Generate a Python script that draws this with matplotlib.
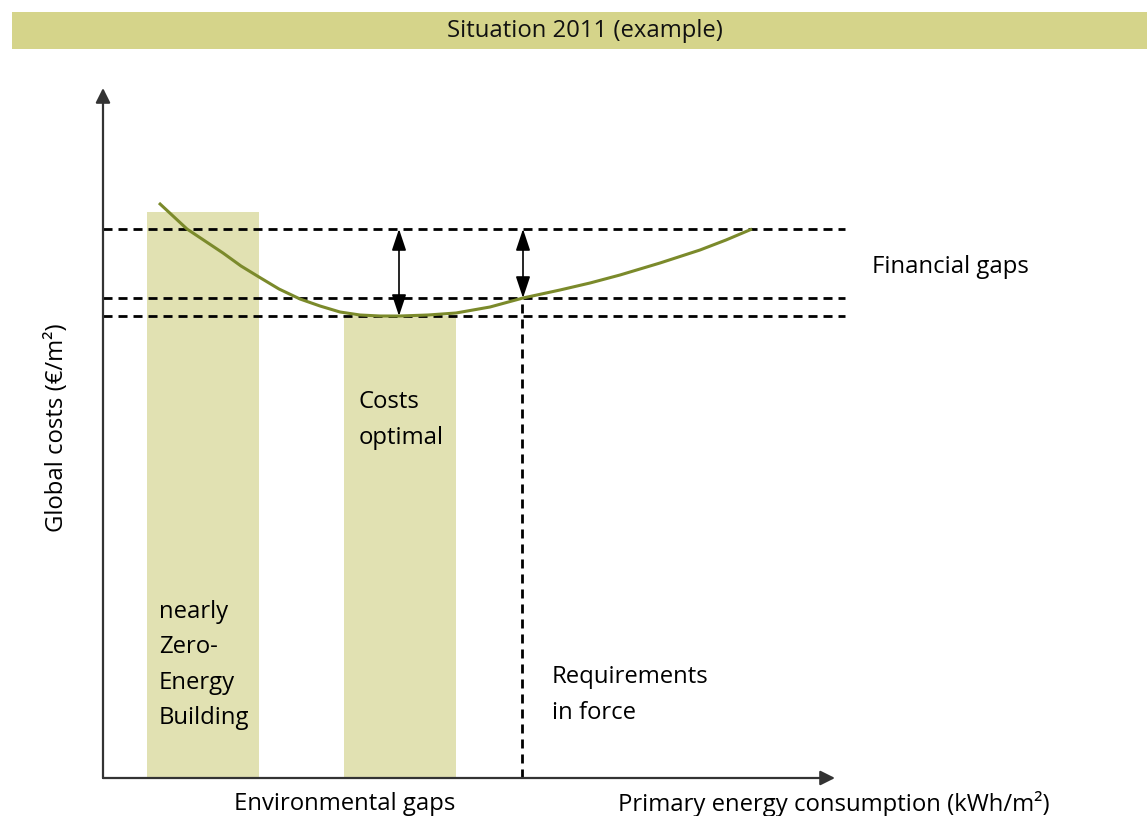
import matplotlib
matplotlib.use("Agg")
import matplotlib.pyplot as plt
from matplotlib.patches import Rectangle

# Schematic chart: units are arbitrary (energy on x, cost on y)
curve_energy = [56, 70, 84, 102, 120, 138, 156, 176, 197, 217, 237, 257, 277, 297,
                325, 353, 387, 420, 457, 487, 517, 557, 597, 623, 649]
curve_cost = [575, 562, 549, 537, 525, 512, 501, 489, 479, 472, 466, 463, 462, 462,
              463, 465, 471, 480, 488, 495, 503, 515, 528, 538, 549]

bar_labels = ["nearly\nZero-\nEnergy\nBuilding", "Costs\noptimal"]
bar_left = [44, 241]
bar_width = [112, 112]
bar_height = [566, 462]

gap_levels = [549, 480, 462]       # horizontal dashed levels
requirement_energy = 419           # requirements in force
gap_arrows = [(296, 549, 462), (420, 549, 480)]

title = "Situation 2011 (example)"

plt.rcParams['font.family'] = ['Open Sans', 'DejaVu Sans']
plt.rcParams['lines.scale_dashes'] = False
FS = 17.2
LS = 1.62

fig = plt.figure(figsize=(11.47, 8.16), dpi=100)
ax = fig.add_axes([0, 0, 1, 1])
ax.set_xlim(-103, 1044)
ax.set_ylim(-38, 778)
ax.axis('off')

# title band
ax.add_patch(Rectangle((-91, 729), 1135, 37, facecolor='#d5d48a', edgecolor='none'))
ax.text(482, 747, title, ha='center', va='center', fontsize=FS, color='#111111')

# shaded bars
ax.bar(bar_left, bar_height, width=bar_width, align='edge', color='#e1e1b2', zorder=1)

# dashed gap lines
for lvl in gap_levels:
    ax.plot([0, 742], [lvl, lvl], color='black', lw=2, dashes=(6.5, 4.3), zorder=2)
ax.plot([requirement_energy, requirement_energy], [0, gap_levels[1]],
        color='black', lw=2, dashes=(6.5, 4.3), zorder=2)

# cost curve
ax.plot(curve_energy, curve_cost, color='#7b8a2b', lw=2.2, zorder=3,
        solid_capstyle='butt', solid_joinstyle='round')

# financial gap arrows
for x, top, bot in gap_arrows:
    ax.annotate('', xy=(x, top), xytext=(x, bot),
                arrowprops=dict(arrowstyle='<|-|>,head_length=0.6,head_width=0.2',
                                color='black', lw=1.2,
                                mutation_scale=22, shrinkA=0, shrinkB=0),
                zorder=4)

# axes with arrowheads
ax.annotate('', xy=(732, 0), xytext=(0, 0),
            arrowprops=dict(arrowstyle='-|>', color='#333333', lw=1.6,
                            mutation_scale=22, shrinkA=0, shrinkB=0))
ax.annotate('', xy=(0, 690), xytext=(0, 0),
            arrowprops=dict(arrowstyle='-|>', color='#333333', lw=1.6,
                            mutation_scale=22, shrinkA=0, shrinkB=0))

# labels
ax.text(-46, 350, "Global costs (€/m²)", rotation=90, ha='center', va='center', fontsize=FS)
ax.text(242, -26, "Environmental gaps", ha='center', va='center', fontsize=FS)
ax.text(515, -26, "Primary energy consumption (kWh/m²)", ha='left', va='center', fontsize=FS)
ax.text(769, 511, "Financial gaps", ha='left', va='center', fontsize=FS)
ax.text(bar_left[0] + 12, 113, bar_labels[0], ha='left', va='center', fontsize=FS, linespacing=LS)
ax.text(bar_left[1] + 15, 358, bar_labels[1], ha='left', va='center', fontsize=FS, linespacing=LS)
ax.text(449, 83, "Requirements\nin force", ha='left', va='center', fontsize=FS, linespacing=LS)

fig.savefig("out.png", dpi=100)
